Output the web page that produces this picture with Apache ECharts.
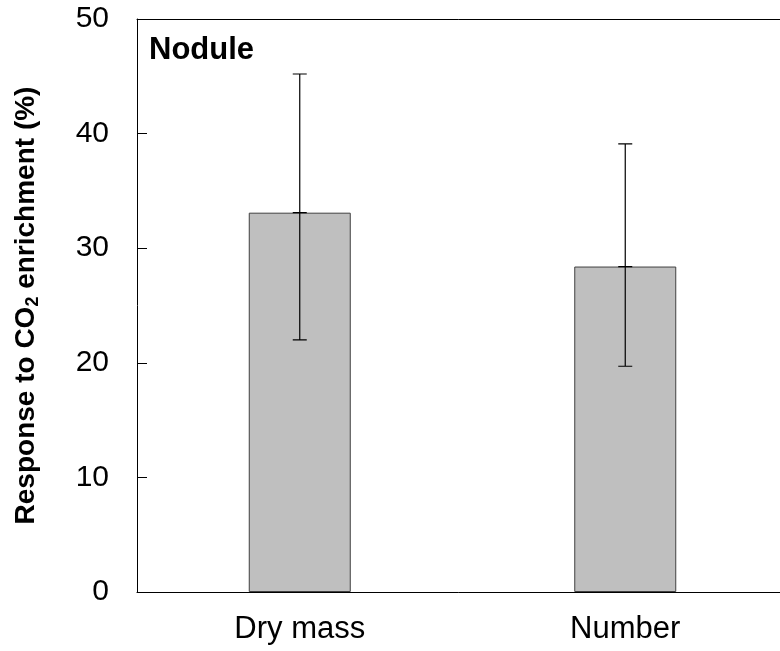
<!DOCTYPE html>
<html><head><meta charset="utf-8">
<script src="https://cdn.jsdelivr.net/npm/echarts@6/dist/echarts.min.js"></script>
<style>html,body{margin:0;padding:0;background:#fff}#c{width:780px;height:651px}</style>
</head><body><div id="c"></div>
<script>
const categories = ['Dry mass', 'Number'];
const values = [33.1, 28.4];
const errLow = [22.0, 19.7];
const errHigh = [45.2, 39.1];
const yTicks = [0, 10, 20, 30, 40, 50];

const chart = echarts.init(document.getElementById('c'));
const F = 'Liberation Sans, Arial, sans-serif';
chart.setOption({
  animation: false,
  title: {text: 'Nodule', left: 149, top: 35, padding: 0,
    textStyle: {fontSize: 31, fontWeight: 'bold', fontFamily: F, color: '#000'}},
  grid: {left: 137, top: 19, height: 573, width: 651, show: false, outerBoundsMode: 'none'},
  xAxis: [{
    type: 'category', data: categories,
    axisLine: {lineStyle: {color: '#000', width: 1}},
    axisTick: {show: false},
    axisLabel: {color: '#000', fontSize: 31, fontFamily: F, margin: 22}
  }, {
    type: 'category', data: categories, position: 'top',
    axisLine: {show: true, lineStyle: {color: '#000', width: 1}},
    axisTick: {show: false}, axisLabel: {show: false}
  }],
  yAxis: {
    type: 'value', min: yTicks[0], max: yTicks[yTicks.length - 1], interval: 10,
    axisLine: {show: true, lineStyle: {color: '#000', width: 1}},
    axisTick: {show: true, inside: true, length: 10, lineStyle: {color: '#000'}},
    splitLine: {show: false},
    axisLabel: {color: '#000', fontSize: 30, fontFamily: F, margin: 28},
    name: '{a|Response to CO}{s|2}{a| enrichment (%)}',
    nameLocation: 'middle', nameGap: 95,
    nameTextStyle: {
      rich: {
        a: {fontSize: 28, fontWeight: 'bold', fontFamily: F, color: '#000'},
        s: {fontSize: 18, fontWeight: 'bold', fontFamily: F, color: '#000', verticalAlign: 'bottom', padding: [14, 0, 0, 0]}
      }
    }
  },
  series: [
    {
      type: 'bar', data: values, barWidth: 102,
      itemStyle: {color: '#bfbfbf', borderColor: '#404040', borderWidth: 1}
    },
    {
      type: 'boxplot',
      data: categories.map((c, i) => [errLow[i], values[i], values[i], values[i], errHigh[i]]),
      boxWidth: [14, 14],
      itemStyle: {color: 'transparent', borderColor: '#000', borderWidth: 1.2},
      z: 5
    }
  ]
});
</script></body></html>
